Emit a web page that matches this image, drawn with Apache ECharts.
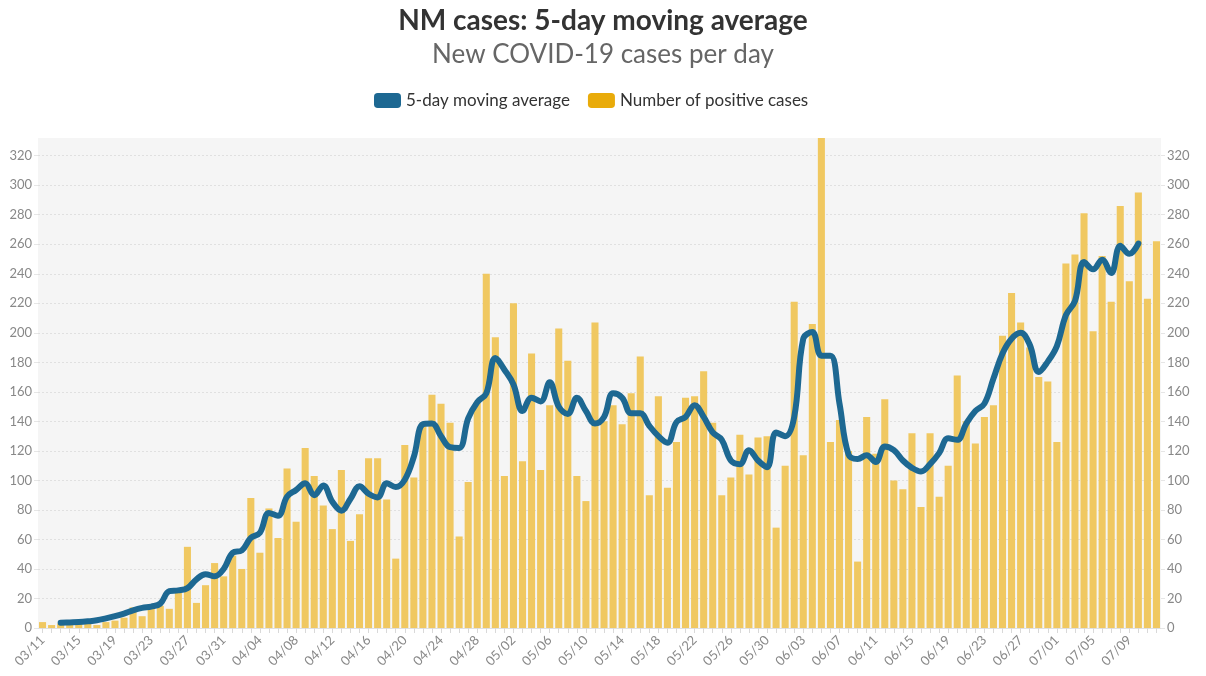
<!DOCTYPE html>
<html>
<head>
<meta charset="utf-8">
<script src="https://cdn.jsdelivr.net/npm/echarts@6/dist/echarts.min.js"></script>
<style>
  html, body { margin: 0; padding: 0; background: #fff; }
  #chart { width: 1206px; height: 676px; }
</style>
</head>
<body>
<div id="chart"></div>
<script>
// dates 03/11 - 07/12
var dates = [
  '03/11','03/12','03/13','03/14','03/15','03/16','03/17','03/18','03/19','03/20','03/21','03/22','03/23','03/24','03/25','03/26','03/27','03/28','03/29','03/30','03/31',
  '04/01','04/02','04/03','04/04','04/05','04/06','04/07','04/08','04/09','04/10','04/11','04/12','04/13','04/14','04/15','04/16','04/17','04/18','04/19','04/20','04/21','04/22','04/23','04/24','04/25','04/26','04/27','04/28','04/29','04/30',
  '05/01','05/02','05/03','05/04','05/05','05/06','05/07','05/08','05/09','05/10','05/11','05/12','05/13','05/14','05/15','05/16','05/17','05/18','05/19','05/20','05/21','05/22','05/23','05/24','05/25','05/26','05/27','05/28','05/29','05/30','05/31',
  '06/01','06/02','06/03','06/04','06/05','06/06','06/07','06/08','06/09','06/10','06/11','06/12','06/13','06/14','06/15','06/16','06/17','06/18','06/19','06/20','06/21','06/22','06/23','06/24','06/25','06/26','06/27','06/28','06/29','06/30',
  '07/01','07/02','07/03','07/04','07/05','07/06','07/07','07/08','07/09','07/10','07/11','07/12'
];

// daily positive cases
var cases = [
  4, 2, 3, 3, 3, 4, 2, 4, 5, 7, 14, 8, 16, 15, 13, 24, 55, 17, 29, 44, 35,
  49, 40, 88, 51, 81, 61, 108, 72, 122, 103, 83, 67, 107, 59, 77, 115, 115, 87, 47, 124, 102, 139, 158, 152, 139, 62, 99, 153, 240, 197,
  103, 220, 113, 186, 107, 151, 203, 181, 103, 86, 207, 140, 151, 138, 159, 184, 90, 157, 95, 126, 156, 157, 174, 139, 90, 102, 131, 104, 129, 130, 68,
  110, 221, 117, 206, 332, 126, 141, 120, 45, 143, 118, 155, 100, 94, 132, 82, 132, 89, 110, 171, 140, 125, 143, 151, 198, 227, 207, 190, 170, 167,
  126, 247, 253, 281, 201, 252, 221, 286, 235, 295, 223, 262
];

// 5-day moving average (as drawn)
var avg5 = [
  null, null, 3.6, 3.8, 4, 4.5, 5.2, 6.5, 8, 9.8, 12, 13.6, 14.5, 16.5, 25, 25.5, 27, 33, 36.5, 35, 40,
  51, 52.5, 61, 64.5, 78, 76, 89, 93.5, 98, 90, 96.5, 85.5, 79.5, 87.5, 96, 91, 88.5, 98, 95.5, 100.5, 116, 138, 138.5, 130, 122.5, 122, 142, 153, 159, 183,
  175, 165, 147, 156, 153.5, 166.5, 150, 145, 156, 147, 138.5, 143, 159, 156, 145.5, 145.5, 137, 130, 125.5, 139.5, 143, 151, 143, 132.5, 127.5, 113.5, 111, 120.5, 113.5, 109, 132.5,
  130, 143, 196, 200.5, 184.5, 184.5, 152, 117.5, 114.5, 117, 112.5, 123, 120.5, 113.5, 108.5, 106, 111, 118.5, 128.5, 127.5, 138.5, 147, 152, 169, 186, 196, 200, 192, 173.5, 180.5,
  191, 212, 221.5, 248, 243, 249.5, 240.5, 259, 253.5, 260.5, null, null
];

var yMax = 332;

var chart = echarts.init(document.getElementById('chart'));

var yAxisBase = {
  type: 'value',
  min: 0,
  max: yMax,
  interval: 20,
  axisLine: { show: false },
  axisTick: { show: true, length: 4, lineStyle: { color: '#e6e6e6' } },
  axisLabel: { color: '#888', fontSize: 13, fontFamily: 'Lato', showMaxLabel: false, margin: 6 },
  splitLine: { show: true, showMaxLine: false, lineStyle: { color: '#e0e0e0', type: [2, 2], width: 1 } }
};

var option = {
  animation: false,
  textStyle: { fontFamily: 'Lato' },
  title: {
    text: 'NM cases: 5-day moving average',
    subtext: 'New COVID-19 cases per day',
    left: 'center',
    top: 0,
    itemGap: 2,
    textStyle: { fontSize: 28, fontWeight: 'bold', color: '#333', fontFamily: 'Lato', lineHeight: 32 },
    subtextStyle: { fontSize: 26, color: '#666', fontFamily: 'Lato', lineHeight: 32 }
  },
  legend: {
    top: 87,
    left: 369,
    icon: 'roundRect',
    itemWidth: 27,
    itemHeight: 15,
    itemGap: 18,
    textStyle: { fontSize: 17, color: '#333', fontFamily: 'Lato' },
    data: [
      { name: '5-day moving average', itemStyle: { color: '#1d6892' } },
      { name: 'Number of positive cases', itemStyle: { color: '#e9ab0a' } }
    ]
  },
  grid: {
    left: 38,
    right: 45,
    top: 138,
    bottom: 48,
    show: true,
    backgroundColor: '#f5f5f5',
    borderWidth: 0
  },
  xAxis: {
    type: 'category',
    data: dates,
    axisLine: { show: true, lineStyle: { color: '#e0e0e0' } },
    axisTick: { show: true, alignWithLabel: true, interval: 0, length: 5, lineStyle: { color: '#d9d9d9' } },
    axisLabel: { interval: 3, rotate: 45, color: '#888', fontSize: 13, fontFamily: 'Lato', margin: 10 },
    splitLine: { show: false }
  },
  yAxis: [
    Object.assign({}, yAxisBase, { position: 'left' }),
    Object.assign({}, yAxisBase, { position: 'right', splitLine: { show: false } })
  ],
  series: [
    {
      name: 'Number of positive cases',
      type: 'bar',
      data: cases,
      barCategoryGap: '22%',
      itemStyle: { color: '#f0c861' },
      z: 2
    },
    {
      name: '5-day moving average',
      type: 'line',
      data: avg5,
      smooth: 0.4,
      showSymbol: false,
      symbol: 'none',
      lineStyle: { color: '#1d6892', width: 6, cap: 'round', join: 'round' },
      itemStyle: { color: '#1d6892' },
      z: 5
    }
  ]
};

chart.setOption(option);
</script>
</body>
</html>
